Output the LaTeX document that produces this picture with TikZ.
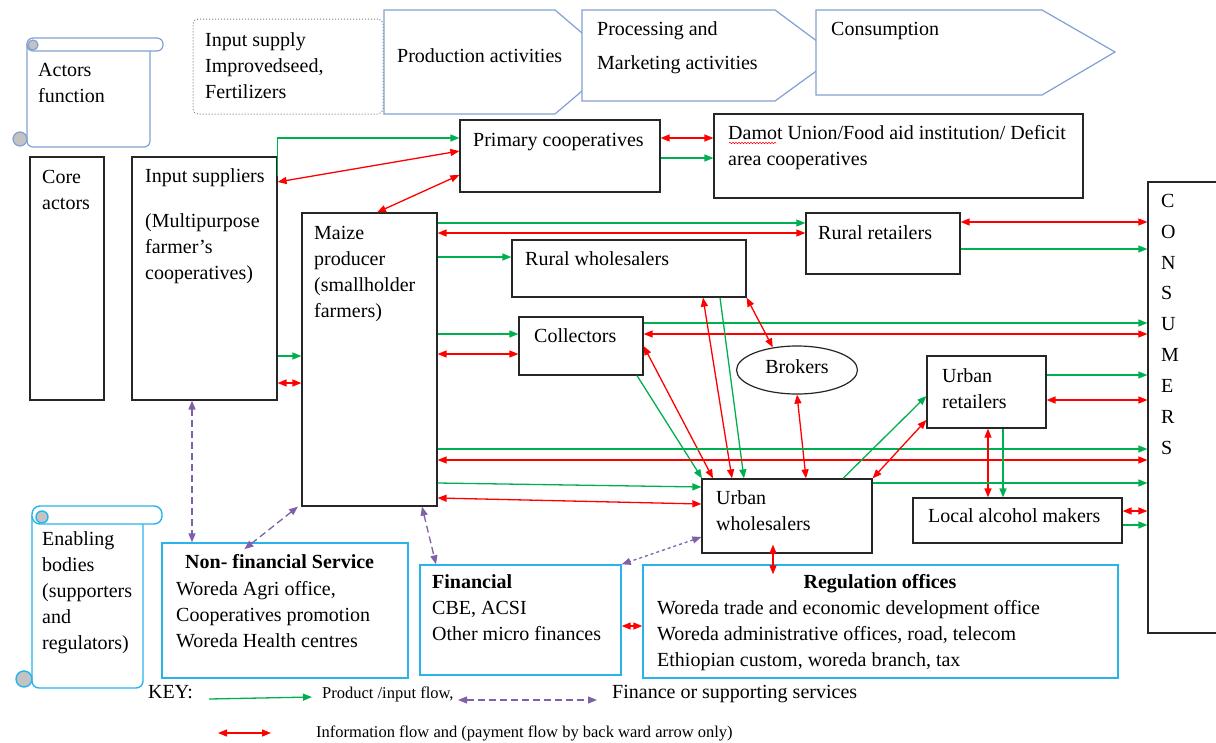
\documentclass[tikz,border=0pt]{standalone}
\usepackage{fontspec}
\setmainfont{Liberation Serif}
\usetikzlibrary{arrows.meta,fit,calc,decorations.pathmorphing,shapes.geometric}
\definecolor{gr}{RGB}{0,176,80}
\definecolor{rd}{RGB}{255,0,0}
\definecolor{pu}{RGB}{128,96,168}
\definecolor{sb}{RGB}{130,160,210}
\definecolor{cy}{RGB}{40,180,235}
\definecolor{cg}{RGB}{195,195,195}
\begin{document}
\begin{tikzpicture}[x=1pt,y=-1pt,
  box/.style={draw=black!85, line width=1.2pt, inner sep=0pt},
  cbox/.style={draw=cy, line width=1.4pt, inner sep=0pt},
  txt/.style={font=\fontsize{20}{26}\selectfont, inner sep=0pt, align=left, anchor=north west, yshift=18.2pt, execute at begin node=\strut},
  txts/.style={font=\fontsize{16.5}{20}\selectfont, inner sep=0pt, align=left, anchor=north west, yshift=14pt, execute at begin node=\strut},
  scl/.style={draw=sb, line width=1.2pt, fill=white},
  scc/.style={draw=cy, line width=1.4pt, fill=white},
  tip/.tip={Triangle[length=9pt,width=7pt]},
  ga/.style={draw=gr, line width=1.3pt, -tip},
  ra/.style={draw=rd, line width=1.3pt, tip-tip},
  pa/.style={draw=pu, line width=1.3pt, dash pattern=on 7pt off 4pt, tip-tip},
]
\path[use as bounding box, fill=white] (0,0) rectangle (1216,742);

% ---- header scroll
\draw[scl, rounded corners=6pt] (27,44) -- (27,147) -- (150,147) -- (150,44);
\draw[scl, rounded corners=6pt] (27,38) rectangle (163,51);
\draw[scl, fill=cg] (33,45) circle (5);
\draw[scl, fill=cg] (20,139) circle (7);
\node[txt] (actt) at (38,76) {\strut Actors\\function};

% ---- input supply box and chevrons
\node[draw=gray, dotted, line width=1pt, rounded corners=5pt, inner sep=0pt, fit={(193,19)(383,114)}] (inpbox) {};
\node[txt] (inpt) at (205,46) {\strut Input supply\\Improvedseed,\\Fertilizers};
\draw[scl] (384,10) -- (555,10) -- (616,62) -- (555,114) -- (384,114) -- cycle;
\draw[scl] (582,10) -- (775,10) -- (837,56) -- (775,101) -- (582,101) -- cycle;
\draw[scl] (816,10) -- (1042,10) -- (1115,52) -- (1042,95) -- (816,95) -- cycle;
\node[txt] (prodt) at (397,62) {Production activities};
\node[txt] (proct) at (597,35) {\strut Processing and\\[8pt]Marketing activities};
\node[txt] (consmt) at (831,35) {Consumption};

% ---- boxes
\node[box, fit={(30,157)(104,400)}] (core) {};
\node[box, fit={(132,157)(277,400)}] (ins) {};
\node[box, fit={(302,213)(437,506)}] (maize) {};
\node[box, fit={(460,120)(660,192)}] (pc) {};
\node[box, fit={(714,114)(1083,198)}] (damot) {};
\node[box, fit={(512,240)(746,297)}] (rw) {};
\node[box, fit={(519,317)(643,375)}] (col) {};
\node[box, fit={(806,213)(960,274)}] (rr) {};
\node[box, fit={(927,356)(1046,428)}] (ur) {};
\node[box, fit={(702,479)(872,553)}] (uw) {};
\node[box, fit={(913,498)(1122,543)}] (lam) {};
\node[draw=black!85, line width=1.2pt, ellipse, minimum width=121pt, minimum height=48pt, inner sep=0pt] (brk) at (797,370) {};
\node[box, fit={(1148,182)(1225,633)}] (cons) {};
\node[cbox, fit={(162,543)(408,678)}] (nf) {};
\node[cbox, fit={(420,565)(621,675)}] (fin) {};
\node[cbox, fit={(643,565)(1118,678)}] (reg) {};

% ---- texts
\node[txt] (coret) at (42,183) {\strut Core\\actors};
\node[txt] (inst) at (145,182) {\strut Input suppliers\\[19pt](Multipurpose\\farmer’s\\cooperatives)};
\node[txt] (pct) at (473,146) {Primary cooperatives};
\node[txt] (damott) at (728,139) {\strut Damot Union/Food aid institution/ Deficit\\area cooperatives};
\draw[rd, line width=0.6pt, decorate, decoration={snake, amplitude=0.7pt, segment length=3pt}] (729,143) -- (776,143);
\node[txt] (mzt) at (314,239) {\strut Maize\\producer\\(smallholder\\farmers)};
\node[txt] (rwt) at (525,265) {Rural wholesalers};
\node[txt] (rrt) at (818,239) {Rural retailers};
\node[txt] (colt) at (534,342) {Collectors};
\node[txt, anchor=north] (brkt) at (797,373) {Brokers};
\node[txt] (urt) at (942,382) {\strut Urban\\retailers};
\node[txt] (uwt) at (716,504) {\strut Urban\\wholesalers};
\node[txt] (lamt) at (928,522) {Local alcohol makers};
\node[txt, font=\fontsize{20}{30.9}\selectfont, yshift=3.43pt] (const) at (1161,207) {\strut C\\O\\N\\S\\U\\M\\E\\R\\S};

% ---- enabling scroll
\draw[scc, rounded corners=7pt] (32,515) -- (32,688) -- (143,688) -- (143,515);
\draw[scc, rounded corners=8pt] (32,506) rectangle (162,524);
\draw[scc, fill=cg] (42,517) circle (6);
\draw[scc, fill=cg] (24,679) circle (8);
\node[txt] (ent) at (42,545) {\strut Enabling\\bodies\\(supporters\\and\\regulators)};

\node[txt] (nftt) at (185,568) {\textbf{Non- financial Service}};
\node[txt] (nft) at (176,595) {\strut Woreda Agri office,\\Cooperatives promotion\\Woreda Health centres};
\node[txt] (fint) at (432,588) {\strut\textbf{Financial}\\CBE, ACSI\\Other micro finances};
\node[txt, anchor=north] (regtt) at (880,588) {\textbf{Regulation offices}};
\node[txt] (regt) at (657,614) {\strut Woreda trade and economic development office\\Woreda administrative offices, road, telecom\\Ethiopian custom, woreda branch, tax};

% ---- connectors
\draw[ga] (ins.east |- 0,176) -- (ins.east |- 0,138) -- (pc.west |- 0,138);
\draw[ra] (ins.east |- 0,182) -- (pc.west |- 0,151);
\draw[ra] (maize.north -| 377,0) -- (pc.west |- 0,175);
\draw[ra] (pc.east |- 0,138) -- (damot.west |- 0,138);
\draw[ga] (pc.east |- 0,158) -- (damot.west |- 0,158);
\draw[ga] (maize.east |- 0,223) -- (rr.west |- 0,223);
\draw[ra] (maize.east |- 0,233) -- (rr.west |- 0,233);
\draw[ga] (maize.east |- 0,257) -- (rw.west |- 0,257);
\draw[ra] (rr.east |- 0,222) -- (cons.west |- 0,222);
\draw[ga] (rr.east |- 0,249) -- (cons.west |- 0,249);
\draw[ga] (maize.east |- 0,334) -- (col.west |- 0,334);
\draw[ra] (maize.east |- 0,354) -- (col.west |- 0,354);
\draw[ga] (col.east |- 0,323) -- (cons.west |- 0,323);
\draw[ra] (col.east |- 0,334) -- (cons.west |- 0,334);
\draw[ga] (ins.east |- 0,356) -- (maize.west |- 0,356);
\draw[ra] (ins.east |- 0,383) -- (maize.west |- 0,383);
\draw[ra] (rw.south -| 703,0) -- (uw.north -| 732,0);
\draw[ga] (rw.south -| 720,0) -- (uw.north -| 744,0);
\draw[ra] (rw.south east) -- (brk.137);
\draw[ra] (brk.south) -- (uw.north -| 806,0);
\draw[ra] (col.east |- 0,346) -- (uw.north -| 713,0);
\draw[ga] (col.south -| 637,0) -- (uw.north -| 702,0);
\draw[ga] (maize.east |- 0,449) -- (cons.west |- 0,449);
\draw[ra] (maize.east |- 0,460) -- (cons.west |- 0,460);
\draw[ga] (maize.east |- 0,483) -- (uw.west |- 0,487);
\draw[ra] (maize.east |- 0,498) -- (uw.west |- 0,504);
\draw[ga] (uw.north -| 843,0) -- (ur.west |- 0,396);
\draw[ra] (uw.north east) -- (ur.west |- 0,420);
\draw[ga] (ur.east |- 0,375) -- (cons.west |- 0,375);
\draw[ra] (ur.east |- 0,400) -- (cons.west |- 0,400);
\draw[ra] (ur.south -| 988,0) -- (lam.north -| 988,0);
\draw[ga] (ur.south -| 1003,0) -- (lam.north -| 1003,0);
\draw[ga] (uw.east |- 0,483) -- (cons.west |- 0,483);
\draw[ra] (lam.east |- 0,511) -- (cons.west |- 0,511);
\draw[ga] (lam.east |- 0,525) -- (cons.west |- 0,525);
\draw[ra, shorten <=-9pt, shorten >=-10pt] (uw.south -| 773,0) -- (reg.north -| 773,0);
\draw[ra] (fin.east |- 0,626) -- (reg.west |- 0,626);
\draw[pa] (ins.south -| 192,0) -- (nf.north -| 192,0);
\draw[pa, shorten >=-11pt] (maize.south -| 298,0) -- (nf.north -| 253,0);
\draw[pa] (maize.south -| 422,0) -- (fin.north -| 436,0);
\draw[pa, dash pattern=on 3pt off 3pt] (uw.west |- 0,537) -- (fin.north east);

% ---- key
\node[txt] (keyt) at (148,698) {KEY:};
\coordinate (k1a) at (209,699);
\coordinate (k1b) at (312,697);
\draw[ga] (k1a) -- (k1b);
\node[txts] (k1t) at (322,698) {Product /input flow,};
\coordinate (k2a) at (458,700);
\coordinate (k2b) at (597,700);
\draw[pa] (k2a) -- (k2b);
\node[txt] (k2t) at (612,698) {Finance or supporting services};
\coordinate (k3a) at (218,733);
\coordinate (k3b) at (271,733);
\draw[ra] (k3a) -- (k3b);
\node[txts] (k3t) at (316,737) {Information flow and (payment flow by back ward arrow only)};
\end{tikzpicture}
\end{document}
